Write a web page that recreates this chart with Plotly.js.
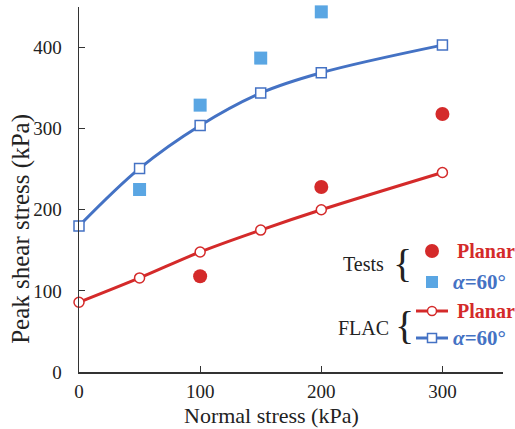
<!DOCTYPE html>
<html><head><meta charset="utf-8">
<script src="https://cdn.plot.ly/plotly-3.0.1.min.js"></script>
<style>html,body{margin:0;padding:0;background:#fff;font-family:'Liberation Serif',serif}#chart{width:515px;height:429px}</style>
</head><body><div id="chart"></div>
<script>
// Data
var flacX = [0, 50, 100, 150, 200, 300];
var flacPlanar = [86, 116, 148, 175, 200, 246];
var flacAlpha60 = [180, 251, 304, 344, 369, 403];
var testPlanarX = [100, 200, 300];
var testPlanar = [118, 228, 318];
var testAlphaX = [50, 100, 150, 200];
var testAlpha60 = [225, 329, 387, 444];
var xTicks = [0, 100, 200, 300];
var yTicks = [0, 100, 200, 300, 400];

var RED = '#d42a2a', BLUE = '#4472c4', LBLUE = '#5aa6e3';
var SERIF = 'Liberation Serif';

var traces = [
  {x: flacX, y: flacAlpha60, mode: 'lines+markers', line: {color: BLUE, width: 3, shape: 'spline', smoothing: 1},
   marker: {symbol: 'square', size: 10, color: '#fff', line: {color: BLUE, width: 1.5}}, cliponaxis: false},
  {x: flacX, y: flacPlanar, mode: 'lines+markers', line: {color: RED, width: 3, shape: 'spline', smoothing: 1},
   marker: {symbol: 'circle', size: 10, color: '#fff', line: {color: RED, width: 1.5}}, cliponaxis: false},
  {x: testAlphaX, y: testAlpha60, mode: 'markers', marker: {symbol: 'square', size: 13, color: LBLUE}, cliponaxis: false},
  {x: testPlanarX, y: testPlanar, mode: 'markers', marker: {symbol: 'circle', size: 14, color: RED}, cliponaxis: false},
  // legend glyphs on a pixel-like overlay axis
  {x: [432], y: [251], xaxis: 'x2', yaxis: 'y2', mode: 'markers', marker: {symbol: 'circle', size: 14, color: RED}, cliponaxis: false},
  {x: [432], y: [282], xaxis: 'x2', yaxis: 'y2', mode: 'markers', marker: {symbol: 'square', size: 12, color: LBLUE}, cliponaxis: false},
  {x: [416, 448], y: [311, 311], xaxis: 'x2', yaxis: 'y2', mode: 'lines', line: {color: RED, width: 3}, cliponaxis: false},
  {x: [432], y: [311], xaxis: 'x2', yaxis: 'y2', mode: 'markers', marker: {symbol: 'circle', size: 9, color: '#fff', line: {color: RED, width: 1.5}}, cliponaxis: false},
  {x: [416, 448], y: [338, 338], xaxis: 'x2', yaxis: 'y2', mode: 'lines', line: {color: BLUE, width: 3}, cliponaxis: false},
  {x: [432], y: [338], xaxis: 'x2', yaxis: 'y2', mode: 'markers', marker: {symbol: 'square', size: 9, color: '#fff', line: {color: BLUE, width: 1.5}}, cliponaxis: false}
];

function ann(x, y, text, size, color, xanchor) {
  return {xref: 'x2', yref: 'y2', x: x, y: y, text: text, showarrow: false, xanchor: xanchor || 'left', yanchor: 'middle',
          font: {family: SERIF, size: size, color: color}};
}

var layout = {
  width: 515, height: 429,
  margin: {l: 79, r: 12, t: 7, b: 57},
  paper_bgcolor: '#fff', plot_bgcolor: '#fff',
  showlegend: false,
  font: {family: SERIF, color: '#222'},
  xaxis: {range: [0, 350], tickvals: xTicks, ticks: 'inside', ticklen: 6, tickwidth: 1.2, tickcolor: '#333',
          showline: true, linecolor: '#333', linewidth: 1.5, showgrid: false, zeroline: false,
          tickfont: {family: SERIF, size: 19, color: '#222'}, ticklabelstandoff: 2},
  yaxis: {range: [0, 450], tickvals: yTicks, ticks: 'inside', ticklen: 6, tickwidth: 1.2, tickcolor: '#333',
          showline: true, linecolor: '#333', linewidth: 1.5, showgrid: false, zeroline: false,
          tickfont: {family: SERIF, size: 19, color: '#222'}, ticklabelstandoff: 12},
  xaxis2: {overlaying: 'x', range: [79, 503], visible: false, fixedrange: true},
  yaxis2: {overlaying: 'y', range: [372, 7], visible: false, fixedrange: true},
  annotations: [
    {xref: 'paper', yref: 'paper', x: 0.455, y: -0.12, xanchor: 'center', yanchor: 'middle', showarrow: false,
     text: 'Normal stress (kPa)', font: {family: SERIF, size: 22, color: '#222'}},
    {xref: 'paper', yref: 'paper', x: -0.137, y: 0.392, xanchor: 'center', yanchor: 'middle', showarrow: false, textangle: -90,
     text: 'Peak shear stress (kPa)', font: {family: SERIF, size: 25, color: '#222'}},
    ann(386, 264, 'Tests', 20, '#222', 'right'),
    ann(402, 263, '{', 40, '#222', 'center'),
    ann(455, 251, '<b>Planar</b>', 20, RED),
    ann(451, 282, '<b><i>α</i>=60°</b>', 21, BLUE),
    ann(391, 328, 'FLAC', 20, '#222', 'right'),
    ann(404, 325, '{', 40, '#222', 'center'),
    ann(455, 311, '<b>Planar</b>', 20, RED),
    ann(451, 338, '<b><i>α</i>=60°</b>', 21, BLUE)
  ]
};

Plotly.newPlot('chart', traces, layout, {displayModeBar: false, staticPlot: true});
</script>
</body></html>
